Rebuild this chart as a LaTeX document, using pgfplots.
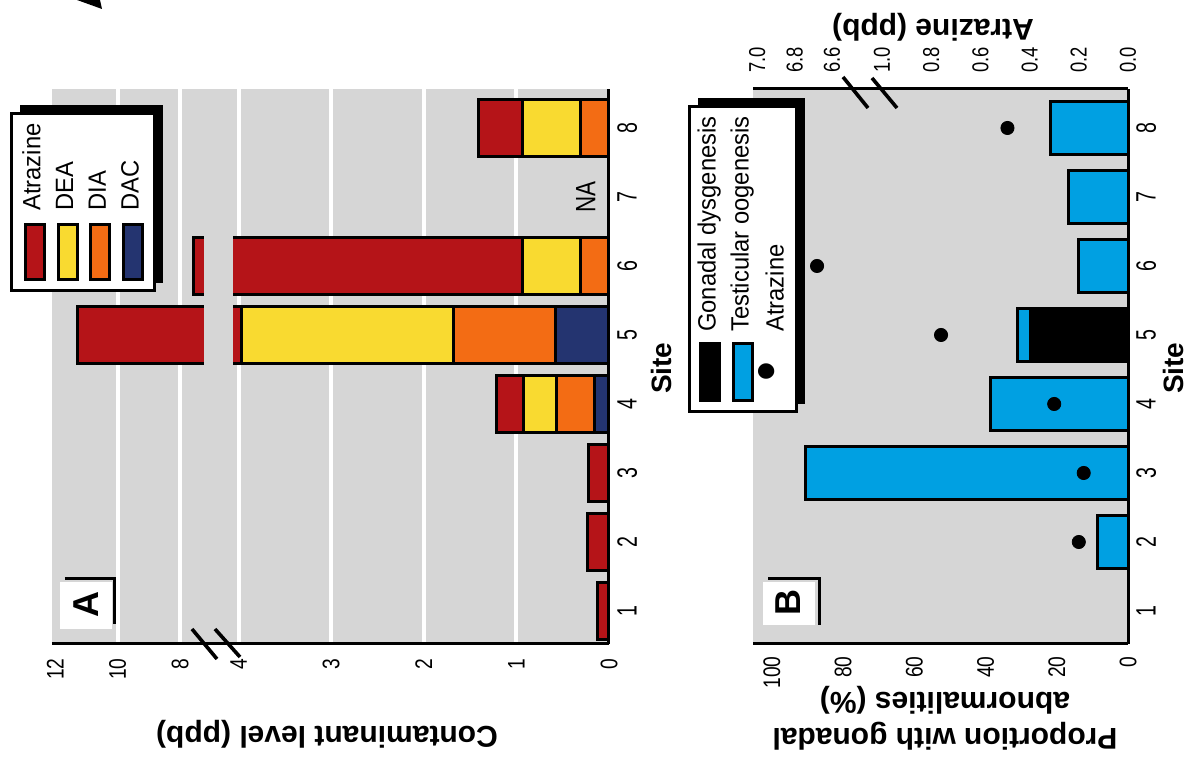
\documentclass[border=0pt]{standalone}
\usepackage{fontspec}
\setmainfont{Liberation Sans}
\newfontfamily\tickfont[FakeStretch=0.8]{Liberation Sans}
\newfontfamily\sitefont[FakeStretch=0.7]{Liberation Sans}
\newfontfamily\legfont[FakeStretch=0.95]{Liberation Sans}
\usepackage{pgfplots}
\pgfplotsset{compat=1.18}
\usetikzlibrary{shadows}
\definecolor{atz}{RGB}{181,20,24}
\definecolor{dea}{RGB}{249,218,48}
\definecolor{dia}{RGB}{243,108,20}
\definecolor{dac}{RGB}{36,52,112}
\definecolor{oog}{RGB}{0,160,226}
\definecolor{bg}{RGB}{214,214,214}
\newcommand{\swatch}[2][26pt]{\raisebox{-1.2pt}{\setlength{\fboxsep}{0pt}\setlength{\fboxrule}{1.5pt}\fcolorbox{black}{#2}{\rule{0pt}{8pt}\hspace{#1}}}}
\pgfplotsset{
  common/.style={
    scale only axis, height=277.5pt,
    ymin=0.522, ymax=8.565,
    clip=false,
    major tick length=0pt,
    axis line style={line width=1.5pt},
    xticklabel style={rotate=90, inner sep=2pt, font=\tickfont\fontsize{12}{12}\selectfont},
    yticklabel style={rotate=90, anchor=north, inner sep=2pt, font=\sitefont\fontsize{14}{14}\selectfont},
    yticklabel shift=2pt,
    ylabel style={font=\bfseries\fontsize{14}{16}\selectfont},
    xlabel style={font=\bfseries\fontsize{15}{18}\selectfont},
  },
}
\tikzset{legbox/.style={rotate=90, anchor=north east, draw=black, line width=1.5pt, fill=white,
    font=\legfont\fontsize{12.5}{14}\selectfont,
    drop shadow={shadow xshift=4pt, shadow yshift=4pt, fill=black, opacity=1}}}
\begin{document}
\begin{tikzpicture}
\path[use as bounding box] (0,0) rectangle (598pt,384.5pt);
\fill (38.5pt,384.5pt) -- (50pt,384.5pt) -- (51pt,380pt) -- cycle;
% ---------------- Panel A ----------------
\begin{axis}[common,
  at={(26pt,62.5pt)}, anchor=south west, width=278.5pt,
  x coord trafo/.code={\pgfmathparse{#1<6 ? -#1 : -(4.63+(#1-8)*0.3375)}},
  xmin=12.1, xmax=0,
  axis x line*=bottom, axis y line*=right,
  axis background/.style={fill=bg},
  xtick={1,2,3,4,8,10}, xticklabels={1,2,3,4,8,10},
  extra x ticks={0,12}, extra x tick labels={0,12}, extra x tick style={grid=none},
  xmajorgrids, major grid style={white, line width=2pt},
  xticklabel style={anchor=east}, xticklabel shift=5pt,
  ytick={1,...,8}, yticklabels={1,...,8},
  xbar, bar shift=0pt, bar width=28.5pt,
  xlabel={Contaminant level (ppb)},
  xlabel style={at={(axis description cs:0.4937,-0.162)}, anchor=center, rotate=180},
  ylabel={Site},
  ylabel style={at={(axis description cs:1.095,0.497)}, anchor=center},
]
% cumulative stack levels (ppb), drawn from the total downwards
\addplot[fill=atz, draw=black, line width=1.5pt] coordinates {(0.12,1) (0.23,2) (0.22,3) (1.22,4) (11.3,5) (7.56,6) (1.41,8)};
\addplot[fill=dea, draw=black, line width=1.5pt] coordinates {(0.92,4) (3.97,5) (0.93,6) (0.93,8)};
\addplot[fill=dia, draw=black, line width=1.5pt] coordinates {(0.57,4) (1.68,5) (0.31,6) (0.31,8)};
\addplot[fill=dac, draw=black, line width=1.5pt] coordinates {(0.16,4) (0.58,5)};
\node[rotate=90, font=\tickfont\fontsize{14}{14}\selectfont] at (axis cs:0.25,7) {NA};
\fill[bg] (axis description cs:0.2729,0.003) rectangle (axis description cs:0.325,1);
\draw[line width=1.8pt] (axis description cs:0.2513,0.027) -- (axis description cs:0.2962,-0.027);
\draw[line width=1.8pt] (axis description cs:0.2926,0.027) -- (axis description cs:0.3375,-0.0234);
\fill[white] (axis description cs:0.0144,0.027) rectangle (axis description cs:0.1077,0.1117);
\draw[line width=1.5pt] (axis description cs:0.0233,0.1171) -- (axis description cs:0.1131,0.1171) -- (axis description cs:0.1131,0.036);
\node[rotate=90, font=\bfseries\fontsize{18}{18}\selectfont] at (axis description cs:0.061,0.072) {A};
\node[legbox, inner xsep=5pt, inner ysep=3pt] at (axis description cs:-0.0754,0.9586)
  {\renewcommand{\arraystretch}{1.17}\begin{tabular}{@{}l@{\hspace{6pt}}l@{}}
   \swatch{atz} & Atrazine\\
   \swatch{dea} & DEA\\
   \swatch{dia} & DIA\\
   \swatch{dac} & DAC
   \end{tabular}};
\end{axis}
% ---------------- Panel B: bars ----------------
\begin{axis}[common,
  at={(376.5pt,62.5pt)}, anchor=south west, width=187.5pt,
  x coord trafo/.code={\pgfmathparse{-#1}},
  xmin=105.3, xmax=0,
  axis x line*=bottom, axis y line*=right,
  axis background/.style={fill=bg},
  xtick={0,20,40,60,80,100}, xticklabels={0,20,40,60,80,100},
  xticklabel style={anchor=east}, xticklabel shift=4pt,
  ytick={1,...,8}, yticklabels={1,...,8},
  xbar, bar shift=0pt, bar width=26.5pt,
  xlabel={Proportion with gonadal\\abnormalities (\%)},
  xlabel style={at={(axis description cs:0.512,-0.133)}, anchor=center, rotate=180, align=center},
  ylabel={Site},
  ylabel style={at={(axis description cs:1.12,0.497)}, anchor=center},
]
% cumulative: testicular oogenesis on top of gonadal dysgenesis
\addplot[fill=oog, draw=black, line width=1.5pt] coordinates {(8.7,2) (90.6,3) (38.7,4) (30.9,5) (14.0,6) (16.7,7) (21.8,8)};
\addplot[fill=black, draw=black, line width=1.5pt] coordinates {(27.4,5)};
\fill[white] (axis description cs:0.0267,0.0342) rectangle (axis description cs:0.1653,0.1117);
\draw[line width=1.5pt] (axis description cs:0.04,0.1189) -- (axis description cs:0.176,0.1189) -- (axis description cs:0.176,0.0342);
\node[rotate=90, font=\bfseries\fontsize{18}{18}\selectfont] at (axis description cs:0.0933,0.0739) {B};
\end{axis}
% ---------------- Panel B: atrazine ----------------
\begin{axis}[common,
  at={(376.5pt,62.5pt)}, anchor=south west, width=187.5pt,
  x coord trafo/.code={\pgfmathparse{#1<3 ? -246*#1 : -(296+(#1-6.6)*187)}},
  xmin=7.0225, xmax=0,
  axis x line*=top, axis y line=none, ytick=\empty,
  xtick={0,0.2,0.4,0.6,0.8,1.0,6.6,6.8,7.0},
  xticklabels={0.0,0.2,0.4,0.6,0.8,1.0,6.6,6.8,7.0},
  xticklabel style={anchor=west, font=\tickfont\fontsize{11.5}{11.5}\selectfont}, xticklabel shift=6pt,
  xlabel={Atrazine (ppb)},
  xlabel style={at={(axis description cs:0.48,1.112)}, anchor=center, rotate=180},
]
\addplot[only marks, mark=*, mark size=3.3pt, black] coordinates {(0.20,2) (0.18,3) (0.30,4) (0.76,5) (6.68,6) (0.49,8)};
\draw[line width=1.8pt] (axis description cs:0.24,1.0216) -- (axis description cs:0.3067,0.9658);
\draw[line width=1.8pt] (axis description cs:0.3173,1.0198) -- (axis description cs:0.384,0.9658);
\node[legbox, inner xsep=5pt, inner ysep=1.5pt] at (axis description cs:-0.1733,0.9712)
  {\renewcommand{\arraystretch}{1.18}\begin{tabular}{@{}l@{\hspace{5pt}}l@{}}
   \swatch[27pt]{black} & Gonadal dysgenesis\\
   \swatch[27pt]{oog} & Testicular oogenesis\\
   \makebox[30pt]{\raisebox{-1.5pt}{\fontsize{30}{14}\selectfont\textbullet}} & Atrazine
   \end{tabular}};
\end{axis}
\end{tikzpicture}
\end{document}
